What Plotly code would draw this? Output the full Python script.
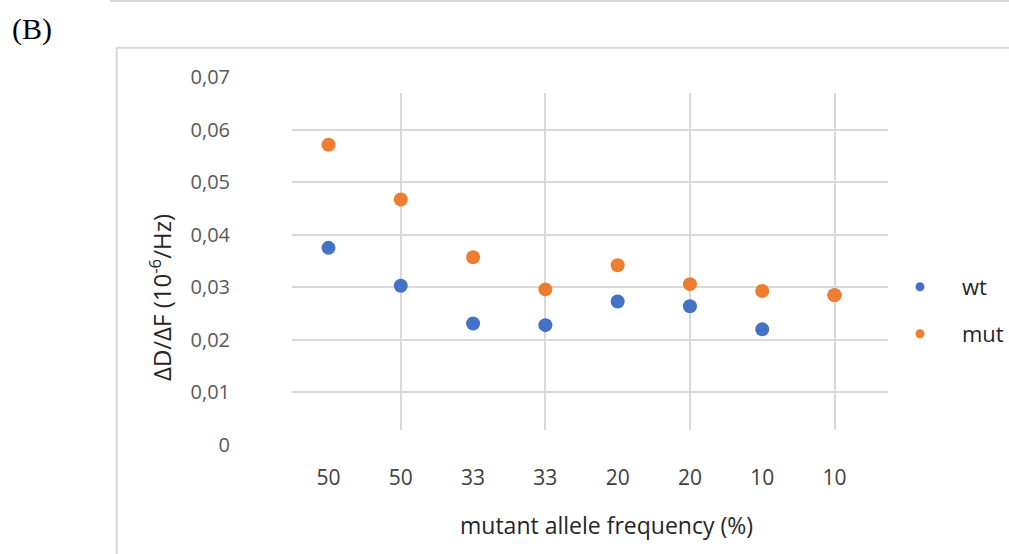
import plotly.graph_objects as go

# ---- data ----
positions = [1, 2, 3, 4, 5, 6, 7, 8]
freq_labels = ["50", "50", "33", "33", "20", "20", "10", "10"]
wt = [0.0375, 0.0303, 0.0231, 0.0228, 0.0273, 0.0264, 0.0220, 0.0285]
mut = [0.0571, 0.0467, 0.0357, 0.0296, 0.0342, 0.0306, 0.0293, 0.0285]
y_ticks = [0, 0.01, 0.02, 0.03, 0.04, 0.05, 0.06, 0.07]
y_ticktext = ["0", "0,01", "0,02", "0,03", "0,04", "0,05", "0,06", "0,07"]
y_grid = [0.01, 0.02, 0.03, 0.04, 0.05, 0.06]
x_grid = [2, 4, 6, 8]

BLUE = "#4472C4"
ORANGE = "#ED7D31"
GRID = "#D9D9D9"

W, H = 1009, 554
ML, MR, MT, MB = 292, 121, 77, 109
PW, PH = W - ML - MR, H - MT - MB
X_RANGE = [0.495, 8.74]
Y_RANGE = [0, 0.07]


def px(xp):
    return (xp - ML) / PW


def py(yp):
    return (H - MB - yp) / PH


# grid subplot y-domain (gridlines span a shorter band than the labels)
gd0, gd1 = py(430), py(93)
grid_range = [Y_RANGE[1] * gd0, Y_RANGE[1] * gd1]

FONT = "Open Sans"

fig = go.Figure()

# invisible trace to create the gridline subplot
fig.add_trace(go.Scatter(x=[None], y=[None], xaxis="x", yaxis="y",
                         showlegend=False, hoverinfo="skip"))

# data traces
fig.add_trace(go.Scatter(x=positions, y=wt, mode="markers", name="wt",
                         xaxis="x2", yaxis="y2", showlegend=False,
                         marker=dict(color=BLUE, size=14)))
fig.add_trace(go.Scatter(x=positions, y=mut, mode="markers", name="mut",
                         xaxis="x2", yaxis="y2", showlegend=False,
                         marker=dict(color=ORANGE, size=14)))

# legend entries (smaller legend markers)
fig.add_trace(go.Scatter(x=[None], y=[None], mode="markers", name="wt",
                         xaxis="x2", yaxis="y2", legend="legend",
                         marker=dict(color=BLUE, size=9)))
fig.add_trace(go.Scatter(x=[None], y=[None], mode="markers", name="mut",
                         xaxis="x2", yaxis="y2", legend="legend2",
                         marker=dict(color=ORANGE, size=9)))

legend_common = dict(xanchor="left", yanchor="middle", itemwidth=74,
                     bgcolor="rgba(0,0,0,0)",
                     font=dict(family=FONT, size=22, color="#262626"))

fig.update_layout(
    width=W, height=H, autosize=False,
    margin=dict(l=ML, r=MR, t=MT, b=MB, autoexpand=False),
    paper_bgcolor="white",
    plot_bgcolor="rgba(0,0,0,0)",
    font=dict(family=FONT),
    legend=dict(x=px(878), y=py(287), **legend_common),
    legend2=dict(x=px(878), y=py(334), **legend_common),
    xaxis=dict(domain=[0, 1], anchor="y", range=X_RANGE, tickvals=x_grid,
               showticklabels=False, showgrid=True, gridcolor=GRID, gridwidth=2,
               zeroline=False, showline=False, ticks=""),
    yaxis=dict(domain=[gd0, gd1], anchor="x", range=grid_range, tickvals=y_grid,
               showticklabels=False, showgrid=True, gridcolor=GRID, gridwidth=2,
               zeroline=False, showline=False, ticks=""),
    xaxis2=dict(domain=[0, 1], anchor="y2", range=X_RANGE, tickvals=positions,
                ticktext=freq_labels, showgrid=False, zeroline=False,
                showline=False, ticks="outside", ticklen=14,
                tickcolor="rgba(0,0,0,0)",
                tickfont=dict(family=FONT, size=21, color="#404040")),
    yaxis2=dict(domain=[0, 1], anchor="x2", range=Y_RANGE, tickvals=y_ticks,
                ticktext=y_ticktext, showgrid=False, zeroline=False,
                showline=False, ticks="outside", ticklen=57,
                tickcolor="rgba(0,0,0,0)",
                tickfont=dict(family=FONT, size=20, color="#595959")),
    shapes=[
        dict(type="line", xref="paper", yref="paper", x0=px(110), x1=px(W),
             y0=py(1), y1=py(1), line=dict(color=GRID, width=2)),
        dict(type="line", xref="paper", yref="paper", x0=px(116.7), x1=px(W),
             y0=py(47.7), y1=py(47.7), line=dict(color=GRID, width=2)),
        dict(type="line", xref="paper", yref="paper", x0=px(116.7), x1=px(116.7),
             y0=py(47.7), y1=py(H), line=dict(color=GRID, width=2)),
    ],
    annotations=[
        dict(text="(B)", xref="paper", yref="paper", x=px(32), y=py(29),
             xanchor="center", yanchor="middle", showarrow=False,
             font=dict(family="Liberation Serif", size=30, color="black")),
        dict(text="mutant allele frequency (%)", xref="paper", yref="paper",
             x=px(606), y=py(525), xanchor="center", yanchor="middle",
             showarrow=False,
             font=dict(family=FONT, size=23, color="#262626")),
        dict(text="ΔD/ΔF (10<sup>-6</sup>/Hz)", xref="paper", yref="paper",
             x=px(160), y=py(298), xanchor="center", yanchor="middle",
             textangle=-90, showarrow=False,
             font=dict(family=FONT, size=24, color="#262626")),
    ],
)

fig.write_html("out.html", config={"responsive": False})
